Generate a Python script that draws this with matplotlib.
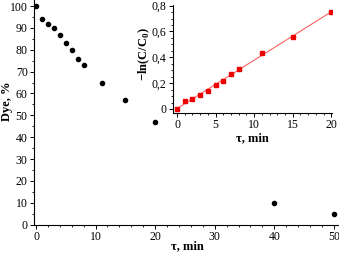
import numpy as np
import matplotlib
matplotlib.use("Agg")
import matplotlib.pyplot as plt
from matplotlib.ticker import MultipleLocator, FuncFormatter

# main plot: dye remaining vs time
t_main = [0, 1, 2, 3, 4, 5, 6, 7, 8, 11, 15, 20, 40, 50]
dye = [100, 94, 92, 90, 87, 83, 80, 76, 73, 65, 57, 47, 10, 5]

# inset: -ln(C/C0) vs time
t_ins = [0, 1, 2, 3, 4, 5, 6, 7, 8, 11, 15, 20]
lnc = [0, 0.06, 0.08, 0.105, 0.14, 0.185, 0.22, 0.27, 0.31, 0.43, 0.56, 0.75]

plt.rcParams['font.family'] = ['Liberation Serif', 'DejaVu Serif']
plt.rcParams['font.size'] = 8.5
plt.rcParams['mathtext.fontset'] = 'custom'
plt.rcParams['mathtext.rm'] = 'Liberation Serif'
plt.rcParams['mathtext.bf'] = 'Liberation Serif:bold'

fig = plt.figure(figsize=(3.39, 2.6), dpi=100)

ax = fig.add_axes([34/339, 1 - 225/260, 304/339, 225/260])
ax.plot(t_main, dye, 'o', color='black', markersize=3)
ax.set_xlim(-0.34, 50.7)
ax.set_ylim(-0.2, 102.8)
ax.spines['top'].set_visible(False)
ax.spines['right'].set_visible(False)
ax.xaxis.set_major_locator(MultipleLocator(10))
ax.xaxis.set_minor_locator(MultipleLocator(2))
ax.yaxis.set_major_locator(MultipleLocator(10))
ax.yaxis.set_minor_locator(MultipleLocator(5))
ax.tick_params(which='major', length=3, width=0.7, pad=1.5)
ax.tick_params(which='minor', length=1.5, width=0.6)
ax.set_xlabel('τ, min', fontweight='bold', fontsize=9)
ax.set_ylabel('Dye, %', fontweight='bold', fontsize=9)
ax.xaxis.set_label_coords(0.503, -0.067)
ax.yaxis.set_label_coords(-0.07, 0.55)

# inset
ins = fig.add_axes([173/339, 1 - 113/260, 159/339, 108/260])
slope, icpt = np.polyfit(t_ins, lnc, 1)
tt = np.array([0, t_ins[-1]])
ins.plot(tt, slope * tt + icpt, '-', color='#ff6060', lw=0.8)
ins.plot(t_ins, lnc, 's', color='#ee0000', markersize=3)
ins.set_xlim(-0.52, 20.1)
ins.set_ylim(-0.031, 0.805)
ins.spines['top'].set_visible(False)
ins.spines['right'].set_visible(False)
ins.patch.set_alpha(0)
ins.xaxis.set_major_locator(MultipleLocator(5))
ins.xaxis.set_minor_locator(MultipleLocator(1))
ins.yaxis.set_major_locator(MultipleLocator(0.2))
ins.yaxis.set_minor_locator(MultipleLocator(0.05))
ins.yaxis.set_major_formatter(FuncFormatter(lambda v, p: ('%g' % round(v, 2)).replace('.', ',')))
ins.tick_params(which='major', length=3, width=0.7, pad=1.5)
ins.tick_params(which='minor', length=1.5, width=0.6)
ins.set_xlabel('τ, min', fontweight='bold', fontsize=9)
ins.set_ylabel('−ln(C/C$_\\mathbf{0}$)', fontweight='bold', fontsize=9)
ins.xaxis.set_label_coords(0.5, -0.176)
ins.yaxis.set_label_coords(-0.132, 0.546)

fig.savefig('out.png', dpi=100)
